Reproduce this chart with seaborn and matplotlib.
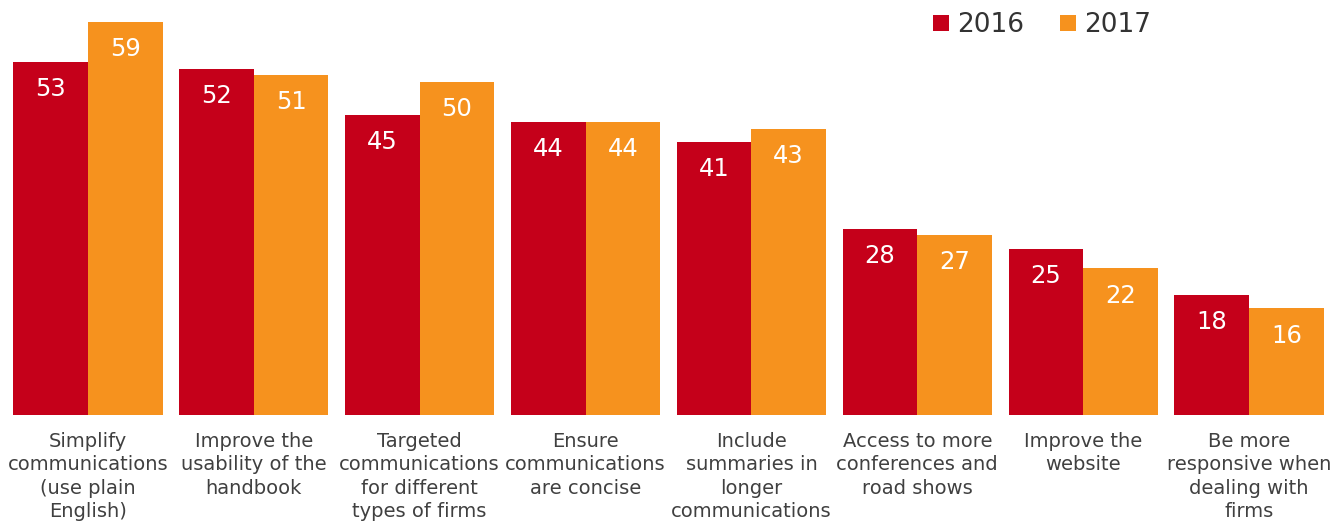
import matplotlib
matplotlib.use("Agg")
import matplotlib.pyplot as plt
import seaborn as sns
import pandas as pd

categories = [
    "Simplify\ncommunications\n(use plain\nEnglish)",
    "Improve the\nusability of the\nhandbook",
    "Targeted\ncommunications\nfor different\ntypes of firms",
    "Ensure\ncommunications\nare concise",
    "Include\nsummaries in\nlonger\ncommunications",
    "Access to more\nconferences and\nroad shows",
    "Improve the\nwebsite",
    "Be more\nresponsive when\ndealing with\nfirms",
]
values_2016 = [53, 52, 45, 44, 41, 28, 25, 18]
values_2017 = [59, 51, 50, 44, 43, 27, 22, 16]
years = ["2016", "2017"]
colors = {"2016": "#C5001A", "2017": "#F6921E"}

df = pd.DataFrame({
    "category": categories * 2,
    "year": [years[0]] * len(categories) + [years[1]] * len(categories),
    "value": values_2016 + values_2017,
})

sns.set_theme(style="white")
plt.rcParams["font.family"] = ["DejaVu Sans"]

fig = plt.figure(figsize=(13.43, 5.25), dpi=100)
ax = fig.add_axes([0.0037, 0.2095, 0.9881, 0.7485])

sns.barplot(data=df, x="category", y="value", hue="year", hue_order=years,
            palette=colors, width=0.9, gap=0, saturation=1, errorbar=None,
            linewidth=0, ax=ax)

ax.set_xlim(-0.5, len(categories) - 0.5)
ax.set_ylim(0, 59)
for s in ax.spines.values():
    s.set_visible(False)
ax.set_xlabel("")
ax.set_ylabel("")
ax.set_yticks([])
ax.tick_params(axis="x", length=0, pad=12, labelsize=14, labelcolor="#404040")
for lbl in ax.get_xticklabels():
    lbl.set_linespacing(1.3)

for container in ax.containers:
    for bar in container:
        h = bar.get_height()
        ax.annotate(f"{h:.0f}", xy=(bar.get_x() + bar.get_width() / 2, h),
                    xytext=(0, -19.5), textcoords="offset points",
                    ha="center", va="center", color="white", fontsize=17.5)

handles, labels = ax.get_legend_handles_labels()
ax.legend(handles, labels, loc="center", bbox_to_anchor=(0.776, 0.952),
          bbox_transform=fig.transFigure, ncol=2, frameon=False,
          fontsize=19, handlelength=0.6, handleheight=0.6,
          handletextpad=0.3, columnspacing=1.36, labelcolor="#333333")

fig.savefig("out.png", dpi=100)
